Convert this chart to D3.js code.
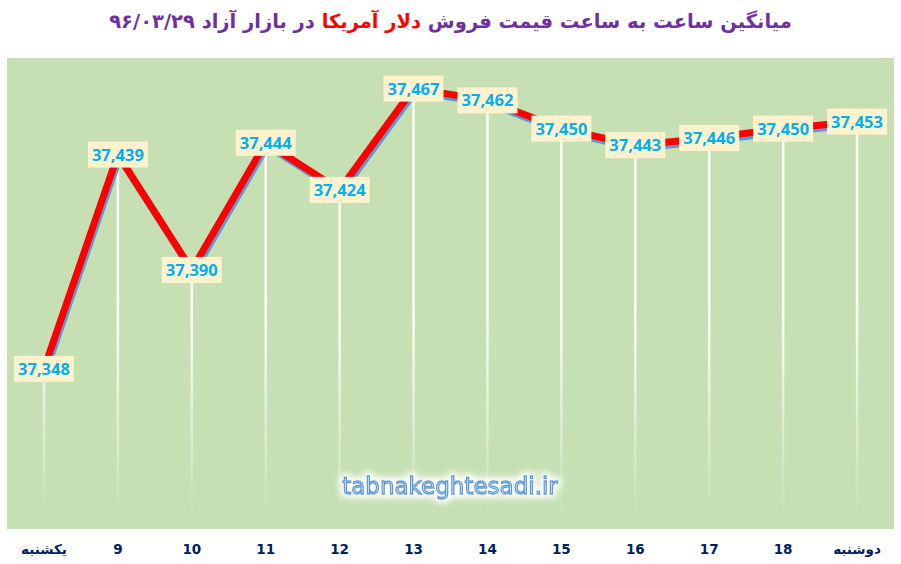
<!DOCTYPE html>
<html>
<head>
<meta charset="utf-8">
<script src="https://cdn.jsdelivr.net/npm/d3@7"></script>
<style>
  body { margin: 0; background: #fff; }
  svg { display: block; }
</style>
</head>
<body>
<svg id="chart" width="901" height="564"></svg>
<script>
const categories = ["یکشنبه", "9", "10", "11", "12", "13", "14", "15", "16", "17", "18", "دوشنبه"];
const prices = [37348, 37439, 37390, 37444, 37424, 37467, 37462, 37450, 37443, 37446, 37450, 37453];
const yDomain = [37280, 37480];

const svg = d3.select("#chart");
const width = +svg.attr("width");
const height = +svg.attr("height");
const plot = { left: 7, right: 894, top: 58, bottom: 529 };

const data = categories.map((c, i) => ({ cat: c, value: prices[i] }));

// scales
const x = d3.scaleBand()
  .domain(categories)
  .range([plot.left, plot.right]);
const y = d3.scaleLinear()
  .domain(yDomain)
  .range([plot.bottom, plot.top]);
const cx = d => x(d.cat) + x.bandwidth() / 2;

const defs = svg.append("defs");
const fade = defs.append("linearGradient")
  .attr("id", "fade")
  .attr("gradientUnits", "userSpaceOnUse")
  .attr("x1", 0).attr("x2", 0)
  .attr("y1", 300).attr("y2", plot.bottom - 12);
fade.append("stop").attr("offset", "0").attr("stop-color", "#fff").attr("stop-opacity", 1);
fade.append("stop").attr("offset", "1").attr("stop-color", "#fff").attr("stop-opacity", 0);

// soft white glow behind the watermark
const glow = defs.append("filter").attr("id", "glow")
  .attr("x", "-10%").attr("y", "-50%").attr("width", "120%").attr("height", "200%");
glow.append("feMorphology").attr("in", "SourceAlpha").attr("operator", "dilate").attr("radius", 3).attr("result", "d");
glow.append("feGaussianBlur").attr("in", "d").attr("stdDeviation", 3).attr("result", "b");
glow.append("feFlood").attr("flood-color", "#fff");
glow.append("feComposite").attr("in2", "b").attr("operator", "in").attr("result", "g");
const merge = glow.append("feMerge");
merge.append("feMergeNode").attr("in", "g");
merge.append("feMergeNode").attr("in", "SourceGraphic");

// plot background
svg.append("rect")
  .attr("x", plot.left).attr("y", plot.top)
  .attr("width", plot.right - plot.left)
  .attr("height", plot.bottom - plot.top)
  .attr("fill", "#c6e0b4");

// drop lines
svg.append("g")
  .selectAll("line")
  .data(data)
  .enter()
  .append("line")
  .attr("x1", cx).attr("x2", cx)
  .attr("y1", d => y(d.value))
  .attr("y2", plot.bottom - 10)
  .attr("stroke", "url(#fade)")
  .attr("stroke-width", 2.5);

// watermark
svg.append("text")
  .attr("x", 450).attr("y", 494)
  .attr("text-anchor", "middle")
  .attr("font-family", "Verdana, 'DejaVu Sans', sans-serif")
  .attr("font-size", 23)
  .attr("fill", "#ddebf7")
  .attr("stroke", "#5b9bd5")
  .attr("stroke-width", 1.3)
  .attr("filter", "url(#glow)")
  .text("tabnakeghtesadi.ir");

// line with shadow
const line = d3.line().x(cx).y(d => y(d.value));
svg.append("path")
  .datum(data)
  .attr("d", line)
  .attr("transform", "translate(1.5,3)")
  .attr("fill", "none")
  .attr("stroke", "#5b9bd5")
  .attr("stroke-width", 7);
svg.append("path")
  .datum(data)
  .attr("d", line)
  .attr("fill", "none")
  .attr("stroke", "#ff0000")
  .attr("stroke-width", 7);

// data labels
const fmt = d3.format(",");
const labels = svg.append("g")
  .selectAll("g")
  .data(data)
  .enter()
  .append("g")
  .attr("transform", d => "translate(" + cx(d) + "," + y(d.value) + ")");
labels.append("rect")
  .attr("x", -30).attr("y", -13)
  .attr("width", 60).attr("height", 26)
  .attr("fill", "#fff2cc");
labels.append("text")
  .attr("text-anchor", "middle")
  .attr("dy", "0.36em")
  .attr("font-family", "'Open Sans', sans-serif")
  .attr("font-weight", "bold")
  .attr("font-size", 16.5)
  .attr("fill", "#00b0f0")
  .text(d => fmt(d.value));

// x axis labels
svg.append("g")
  .selectAll("text")
  .data(categories)
  .enter()
  .append("text")
  .attr("x", d => x(d) + x.bandwidth() / 2)
  .attr("y", 554)
  .attr("text-anchor", "middle")
  .attr("font-family", "'DejaVu Sans', sans-serif")
  .attr("font-weight", "bold")
  .attr("font-size", 13.5)
  .attr("fill", "#002060")
  .text(d => d);

// title
const title = svg.append("text")
  .attr("x", width / 2).attr("y", 28)
  .attr("text-anchor", "middle")
  .attr("direction", "rtl")
  .attr("font-family", "'DejaVu Sans', sans-serif")
  .attr("font-weight", "bold")
  .attr("font-size", 19.5)
  .attr("fill", "#7030a0");
title.append("tspan").text("میانگین ساعت به ساعت قیمت فروش ");
title.append("tspan").attr("fill", "#ff0000").text("دلار آمریکا");
title.append("tspan").text(" در بازار آزاد ۹۶/۰۳/۲۹");
</script>
</body>
</html>
